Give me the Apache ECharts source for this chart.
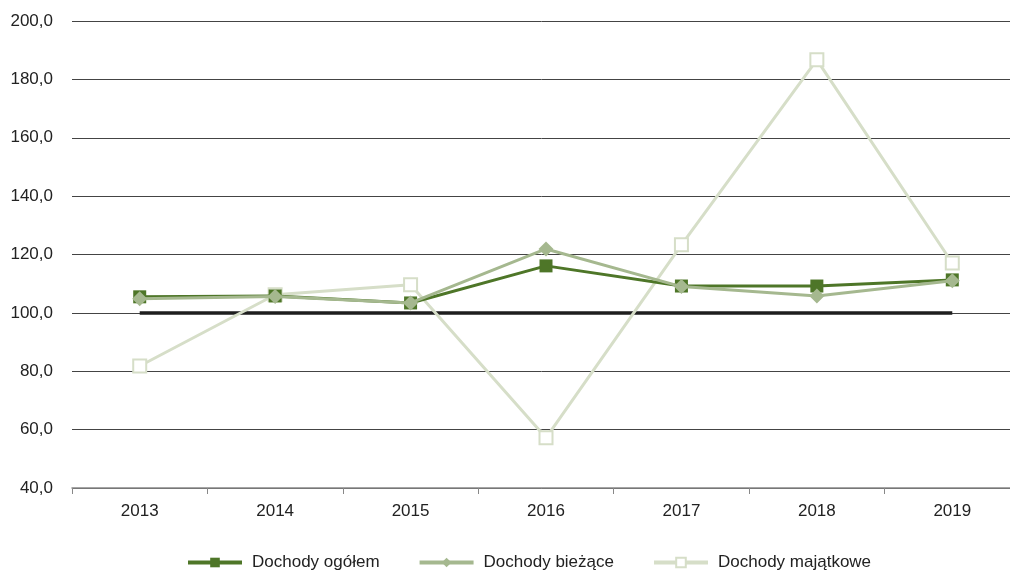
<!DOCTYPE html>
<html><head><meta charset="utf-8">
<script src="https://cdn.jsdelivr.net/npm/echarts@6/dist/echarts.min.js"></script>
<style>html,body{margin:0;padding:0;background:#fff}#c{width:1010px;height:572px}</style>
</head><body><div id="c"></div>
<script>
const years = ['2013','2014','2015','2016','2017','2018','2019'];
const ogolem = [105.5, 105.8, 103.4, 116.1, 109.2, 109.2, 111.3];
const biezace = [104.8, 105.6, 103.4, 121.9, 109.0, 105.8, 111.0];
const majatkowe = [81.8, 106.2, 109.6, 57.2, 123.3, 186.7, 117.1];
const baseline = [100, 100, 100, 100, 100, 100, 100];
const names = ['Dochody ogółem', 'Dochody bieżące', 'Dochody majątkowe'];

const chart = echarts.init(document.getElementById('c'));
const font = '"Liberation Sans", Arial, sans-serif';
chart.setOption({
  animation: false,
  textStyle: {fontFamily: font},
  grid: {left: 72, top: 21, width: 948, height: 467, containLabel: false, outerBoundsMode: 'none'},
  legend: {
    data: names, top: 549, left: 181, itemGap: 38, itemWidth: 54, itemHeight: 12,
    lineStyle: {width: 4},
    textStyle: {fontFamily: font, fontSize: 17, color: '#222', padding: [0, 0, 0, 5]}
  },
  xAxis: {
    type: 'category', data: years, boundaryGap: true,
    axisLine: {lineStyle: {color: '#888', width: 1.5}},
    axisTick: {show: true, length: 6, lineStyle: {color: '#888'}},
    axisLabel: {fontFamily: font, fontSize: 17, color: '#222', margin: 15}
  },
  yAxis: {
    type: 'value', min: 40, max: 200, interval: 20,
    axisLine: {show: false}, axisTick: {show: false},
    splitLine: {lineStyle: {color: '#444', width: 1}},
    axisLabel: {fontFamily: font, fontSize: 17, color: '#222', margin: 19,
      formatter: v => v.toFixed(1).replace('.', ',')}
  },
  series: [
    {name: 'baseline', type: 'line', data: baseline, symbol: 'none', silent: true,
      lineStyle: {color: '#1e1e1e', width: 3.5}, z: 1},
    {name: names[2], type: 'line', data: majatkowe, symbol: 'rect', symbolSize: 13,
      itemStyle: {color: '#fff', borderColor: '#d6dec8', borderWidth: 2},
      lineStyle: {color: '#d6dec8', width: 3}, z: 2},
    {name: names[0], type: 'line', data: ogolem, symbol: 'rect', symbolSize: 13,
      itemStyle: {color: '#4e7628'}, lineStyle: {color: '#4e7628', width: 3}, z: 3},
    {name: names[1], type: 'line', data: biezace, symbol: 'diamond', symbolSize: 15,
      itemStyle: {color: '#a5b88f'}, lineStyle: {color: '#a5b88f', width: 3}, z: 4}
  ]
});
</script></body></html>
